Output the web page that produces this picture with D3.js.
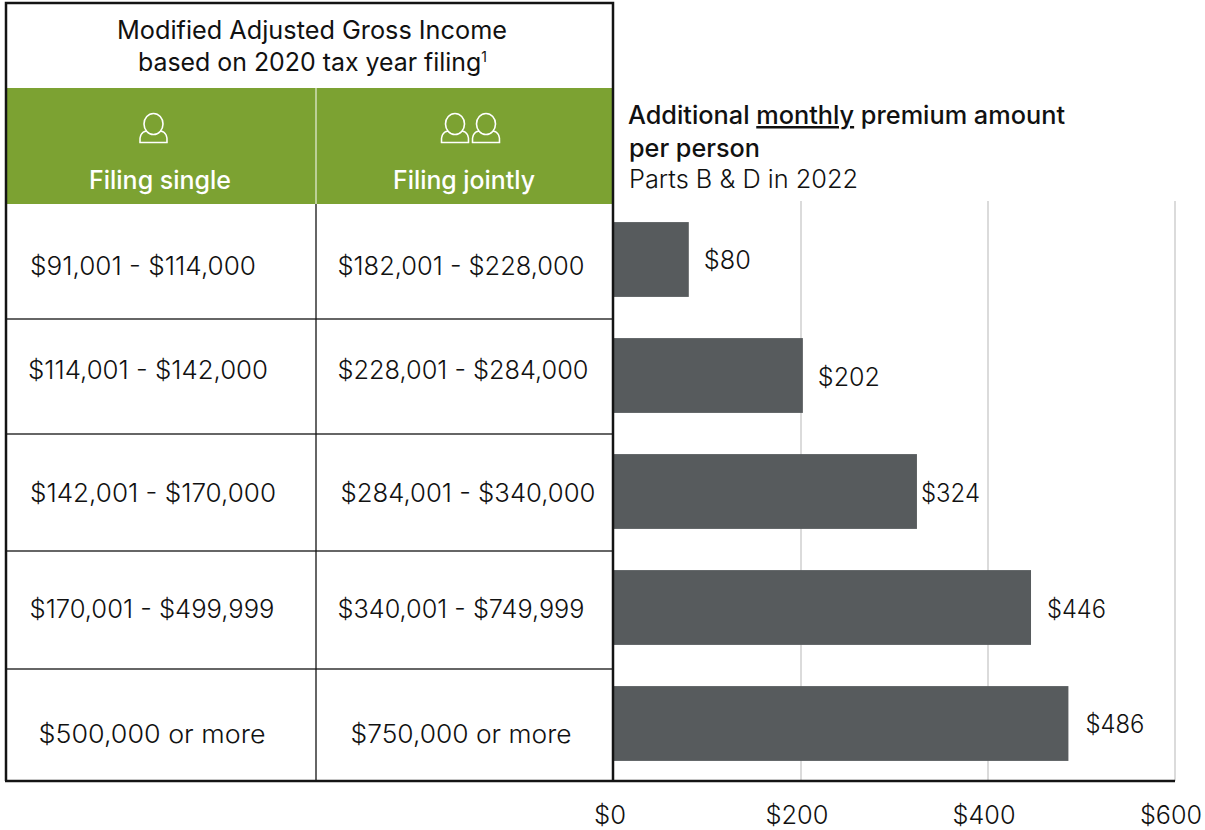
<!DOCTYPE html>
<html><head><meta charset="utf-8">
<script src="https://cdn.jsdelivr.net/npm/d3@7"></script>
<style>
html,body{margin:0;padding:0;background:#fff}
svg{display:block}
text{font-family:Inter,"Noto Sans",sans-serif;fill:#111}
</style></head><body>
<script>
const singleRanges=["$91,001 - $114,000","$114,001 - $142,000","$142,001 - $170,000","$170,001 - $499,999","$500,000 or more"];
const jointRanges=["$182,001 - $228,000","$228,001 - $284,000","$284,001 - $340,000","$340,001 - $749,999","$750,000 or more"];
const premiums=[80,202,324,446,486];
const xTicks=[0,200,400,600];

const W=1205,H=830;
const svg=d3.select("body").append("svg").attr("width",W).attr("height",H);
const x=d3.scaleLinear().domain([0,600]).range([614,1175]);
const y=d3.scaleBand().domain(d3.range(premiums.length)).range([201,781]).paddingInner(0.355).paddingOuter(0.1775);
const fmt=v=>"$"+v;
const green="#7ca232",ink="#141414",cellFont=25.5;

// gridlines
svg.append("g").selectAll("line").data(xTicks.slice(1)).join("line")
 .attr("x1",x).attr("x2",x).attr("y1",201).attr("y2",781)
 .attr("stroke","#cfcfcf").attr("stroke-width",1.5);

// bars
svg.append("g").selectAll("rect").data(premiums).join("rect")
 .attr("x",x(0)).attr("y",(d,i)=>y(i)+0.5).attr("width",d=>x(d)-x(0)).attr("height",y.bandwidth())
 .attr("fill","#575b5d");

// value labels
const labelDx=[15,15,4,16,17], labelDy=[1,2,2,2,1];
svg.append("g").selectAll("text").data(premiums).join("text")
 .attr("x",(d,i)=>x(d)+labelDx[i]).attr("y",(d,i)=>y(i)+y.bandwidth()/2+labelDy[i]+9)
 .attr("font-size",25).attr("font-weight",300).attr("textLength",(d,i)=>d<100?47:(d===202?62:59)).attr("lengthAdjust","spacingAndGlyphs").text(fmt);

// axis tick labels
const tickW=[32,63,63,62];
svg.append("g").selectAll("text").data(xTicks).join("text")
 .attr("x",d=>x(d)-4).attr("y",824).attr("text-anchor","middle")
 .attr("font-size",26).attr("font-weight",300).attr("textLength",(d,i)=>tickW[i]).attr("lengthAdjust","spacingAndGlyphs").text(fmt);

// table header
svg.append("rect").attr("x",6).attr("y",88).attr("width",608).attr("height",116).attr("fill",green);
svg.append("line").attr("x1",316).attr("x2",316).attr("y1",88).attr("y2",204).attr("stroke","#e8eedb").attr("stroke-width",1.2);
const tbl=svg.append("g");
tbl.append("text").attr("x",312).attr("y",39).attr("text-anchor","middle").attr("font-size",25).attr("font-weight",400)
 .attr("textLength",390).attr("lengthAdjust","spacingAndGlyphs").text("Modified Adjusted Gross Income");
const sub=tbl.append("text").attr("x",138).attr("y",71).attr("font-size",25).attr("font-weight",400)
 .attr("textLength",349).attr("lengthAdjust","spacingAndGlyphs").text("based on 2020 tax year filing");
sub.append("tspan").attr("font-size",14).attr("dy",-9).text("1");
[[160,142,"Filing single"],[464,142,"Filing jointly"]].forEach(([tx,tw,s])=>{
 tbl.append("text").attr("x",tx).attr("y",189).attr("text-anchor","middle").attr("font-size",25).attr("font-weight",500)
  .attr("textLength",tw).attr("lengthAdjust","spacingAndGlyphs").style("fill","#fff").text(s);
});

// person icons
function person(cx){
 const g=svg.append("g").attr("fill","none").attr("stroke","#fff").attr("stroke-width",1.6).attr("transform",`translate(${cx},0)`);
 g.append("ellipse").attr("cx",0).attr("cy",124).attr("rx",9.5).attr("ry",10.5);
 g.append("path").attr("d","M-7,131 C-13,132 -14,138 -13.5,142.5 L13.5,142.5 C14,138 13,132 7,131");
}
[153.5,455,486].forEach(person);

// table rows
const rowLines=[319,434,551,669];
tbl.selectAll("line.row").data(rowLines).join("line").attr("class","row")
 .attr("x1",6).attr("x2",613).attr("y1",d=>d).attr("y2",d=>d).attr("stroke","#333").attr("stroke-width",1.3);
tbl.append("line").attr("x1",316).attr("x2",316).attr("y1",204).attr("y2",781).attr("stroke",ink).attr("stroke-width",1.3);
const rowY=[275,379,502,618,743];
const singleX=[143,148,153,152,152], jointX=[461,463,468,461,461];
const singleW=[226,240,246,245,227], jointW=[247,251,255,247,221];
tbl.selectAll("text.s").data(singleRanges).join("text").attr("class","s")
 .attr("x",(d,i)=>singleX[i]).attr("y",(d,i)=>rowY[i]).attr("text-anchor","middle").attr("font-size",cellFont).attr("font-weight",300)
 .attr("textLength",(d,i)=>singleW[i]).attr("lengthAdjust","spacingAndGlyphs").text(d=>d);
tbl.selectAll("text.j").data(jointRanges).join("text").attr("class","j")
 .attr("x",(d,i)=>jointX[i]).attr("y",(d,i)=>rowY[i]).attr("text-anchor","middle").attr("font-size",cellFont).attr("font-weight",300)
 .attr("textLength",(d,i)=>jointW[i]).attr("lengthAdjust","spacingAndGlyphs").text(d=>d);

// outer frame and baseline
svg.append("path").attr("d","M6,781 L6,3 L613,3 L613,781").attr("fill","none").attr("stroke",ink).attr("stroke-width",2.5);
svg.append("line").attr("x1",5).attr("x2",1175).attr("y1",781).attr("y2",781).attr("stroke",ink).attr("stroke-width",2.5);

// chart title
const title=svg.append("g");
const t1=title.append("text").attr("x",628).attr("y",124).attr("font-size",25).attr("font-weight",500)
 .attr("textLength",437).attr("lengthAdjust","spacingAndGlyphs");
t1.append("tspan").text("Additional ");
t1.append("tspan").attr("text-decoration","underline").text("monthly");
t1.append("tspan").text(" premium amount");
title.append("text").attr("x",629).attr("y",157).attr("font-size",25).attr("font-weight",500).attr("textLength",131).attr("lengthAdjust","spacingAndGlyphs").text("per person");
title.append("text").attr("x",629).attr("y",188).attr("font-size",25).attr("font-weight",300).attr("textLength",229).attr("lengthAdjust","spacingAndGlyphs").text("Parts B & D in 2022");
</script>
</body></html>
